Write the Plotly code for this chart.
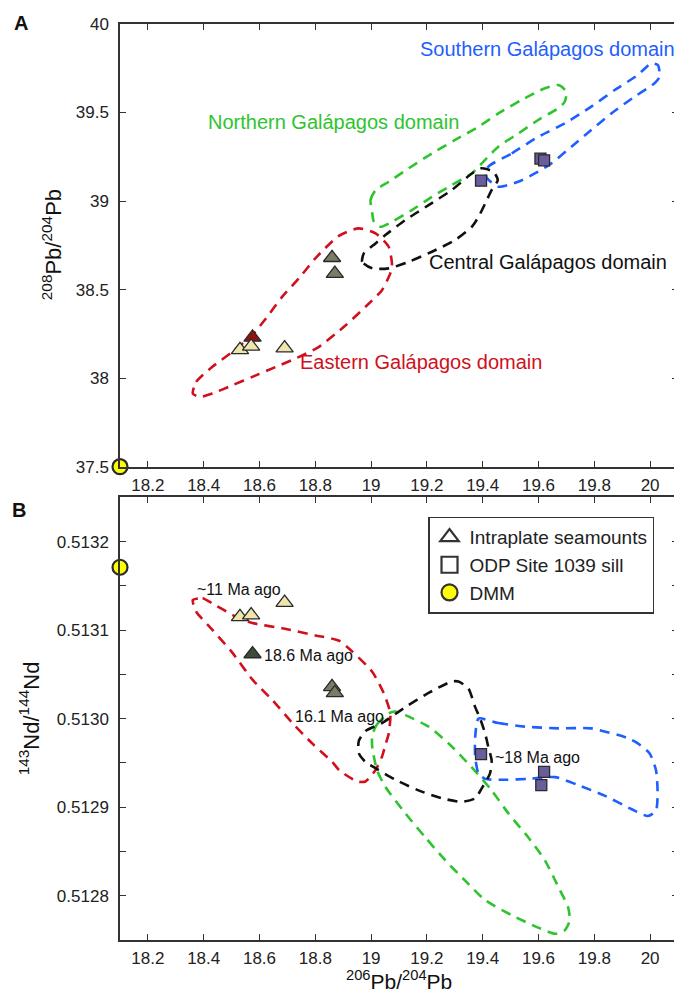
import plotly.graph_objects as go

FONT = "Liberation Sans, Arial, Helvetica, sans-serif"

# ---------------- data: panel A (206Pb/204Pb vs 208Pb/204Pb) ----------------
sea_light_pb206 = [18.53, 18.57, 18.69]
sea_light_pb208 = [38.16, 38.18, 38.17]
sea_dark_pb206 = [18.575]
sea_dark_pb208 = [38.23]
sea_mid_pb206 = [18.86, 18.87]
sea_mid_pb208 = [38.68, 38.59]
odp_pb206 = [19.394, 19.607, 19.62]
odp_pb208 = [39.115, 39.24, 39.23]
dmm_pb206 = [18.1]
dmm_pb208 = [37.5]

# domain outlines, panel A
east_a_x = [18.361, 18.373, 18.431, 18.503, 18.574, 18.623, 18.681, 18.742, 18.801, 18.883, 18.955,
            19.016, 19.063, 19.075, 19.069, 19.039, 18.980, 18.909, 18.813, 18.742, 18.659, 18.574,
            18.503, 18.432, 18.385, 18.361]
east_a_y = [37.914, 37.979, 38.064, 38.149, 38.243, 38.337, 38.459, 38.565, 38.678, 38.802, 38.846,
            38.818, 38.742, 38.638, 38.593, 38.497, 38.403, 38.299, 38.177, 38.120, 38.064, 38.007,
            37.960, 37.914, 37.894, 37.914]
cent_a_x = [19.004, 18.968, 18.974, 19.016, 19.051, 19.123, 19.206, 19.289, 19.361, 19.396, 19.438,
            19.454, 19.432, 19.409, 19.385, 19.361, 19.301, 19.218, 19.135, 19.063, 19.004]
cent_a_y = [38.620, 38.657, 38.705, 38.761, 38.808, 38.893, 38.977, 39.062, 39.156, 39.185, 39.166,
            39.119, 39.062, 38.987, 38.911, 38.855, 38.780, 38.714, 38.657, 38.620, 38.620]
north_a_x = [19.004, 18.998, 19.016, 19.063, 19.135, 19.218, 19.301, 19.385, 19.456, 19.539, 19.623,
             19.671, 19.700, 19.694, 19.671, 19.599, 19.528, 19.456, 19.385, 19.361, 19.289, 19.218,
             19.146, 19.075, 19.034, 19.010, 19.004]
north_a_y = [38.931, 39.006, 39.062, 39.109, 39.185, 39.269, 39.345, 39.420, 39.495, 39.571, 39.637,
             39.655, 39.618, 39.561, 39.524, 39.458, 39.382, 39.307, 39.194, 39.156, 39.090, 39.024,
             38.949, 38.883, 38.855, 38.883, 38.931]
south_a_x = [19.420, 19.504, 19.599, 19.694, 19.789, 19.873, 19.956, 20.004, 20.028, 20.034, 20.016,
             19.944, 19.861, 19.789, 19.718, 19.646, 19.587, 19.527, 19.456, 19.413, 19.420]
south_a_y = [39.194, 39.269, 39.363, 39.439, 39.533, 39.627, 39.712, 39.778, 39.768, 39.702, 39.665,
             39.589, 39.495, 39.401, 39.307, 39.213, 39.156, 39.109, 39.081, 39.136, 39.194]

# ---------------- data: panel B (206Pb/204Pb vs 143Nd/144Nd) ----------------
sea_light_nd = [0.513115, 0.513117, 0.513131]
sea_dark_nd = [0.513073]
sea_mid_nd = [0.513036, 0.513029]
odp_pb206_b = [19.394, 19.62, 19.61]
odp_nd = [0.512960, 0.512940, 0.512925]
dmm_nd = [0.513171]

east_b_x = [18.361, 18.396, 18.432, 18.504, 18.575, 18.682, 18.801, 18.885, 18.932, 19.004, 19.045,
            19.069, 19.063, 19.051, 19.039, 19.016, 18.980, 18.950, 18.885, 18.861, 18.789, 18.718,
            18.646, 18.575, 18.504, 18.432, 18.373, 18.361]
east_b_y = [0.513134, 0.513136, 0.513130, 0.513117, 0.513108, 0.513102, 0.513094, 0.513088, 0.513076,
            0.513053, 0.513029, 0.513006, 0.512983, 0.512970, 0.512957, 0.512942, 0.512929, 0.512929,
            0.512942, 0.512951, 0.512972, 0.512995, 0.513021, 0.513044, 0.513074, 0.513100, 0.513121,
            0.513134]
cent_b_x = [18.956, 18.980, 19.039, 19.123, 19.206, 19.289, 19.313, 19.349, 19.373, 19.391, 19.409,
            19.420, 19.432, 19.426, 19.396, 19.373, 19.325, 19.254, 19.170, 19.087, 19.016, 18.980,
            18.956, 18.956]
cent_b_y = [0.512975, 0.512986, 0.512995, 0.513013, 0.513029, 0.513042, 0.513042, 0.513034, 0.513013,
            0.513000, 0.512983, 0.512968, 0.512953, 0.512938, 0.512921, 0.512910, 0.512906, 0.512910,
            0.512919, 0.512931, 0.512944, 0.512951, 0.512961, 0.512975]
north_b_x = [19.004, 19.020, 19.063, 19.087, 19.123, 19.206, 19.278, 19.361, 19.432, 19.492, 19.563,
             19.623, 19.671, 19.706, 19.712, 19.694, 19.659, 19.599, 19.504, 19.409, 19.337, 19.266,
             19.194, 19.123, 19.051, 19.021, 19.004, 19.004]
north_b_y = [0.512981, 0.512993, 0.513006, 0.513008, 0.513004, 0.512991, 0.512972, 0.512945, 0.512919,
             0.512893, 0.512866, 0.512840, 0.512810, 0.512787, 0.512772, 0.512761, 0.512757, 0.512764,
             0.512778, 0.512795, 0.512817, 0.512840, 0.512866, 0.512893, 0.512923, 0.512942, 0.512968,
             0.512981]
south_b_x = [19.385, 19.456, 19.551, 19.671, 19.789, 19.920, 19.956, 19.998, 20.021, 20.027, 20.021,
             19.992, 19.932, 19.837, 19.742, 19.659, 19.563, 19.480, 19.409, 19.385, 19.373, 19.373,
             19.385]
south_b_y = [0.513000, 0.512995, 0.512991, 0.512989, 0.512989, 0.512978, 0.512972, 0.512961, 0.512942,
             0.512915, 0.512896, 0.512890, 0.512898, 0.512913, 0.512925, 0.512934, 0.512932, 0.512931,
             0.512932, 0.512938, 0.512957, 0.512979, 0.513000]

# ticks
x_ticks = [18.2, 18.4, 18.6, 18.8, 19.0, 19.2, 19.4, 19.6, 19.8, 20.0]
x_tick_text = ["18.2", "18.4", "18.6", "18.8", "19", "19.2", "19.4", "19.6", "19.8", "20"]
ya_ticks = [37.5, 38.0, 38.5, 39.0, 39.5, 40.0]
ya_tick_text = ["37.5", "38", "38.5", "39", "39.5", "40"]
yb_ticks = [0.51275, 0.5128, 0.51285, 0.5129, 0.51295, 0.5130, 0.51305, 0.5131, 0.51315, 0.5132, 0.51325]
yb_tick_text = ["", "0.5128", "", "0.5129", "", "0.5130", "", "0.5131", "", "0.5132", ""]

# labels
domain_names = ["Southern Galápagos domain", "Northern Galápagos domain",
                "Central Galápagos domain", "Eastern Galápagos domain"]
domain_label_x = [19.631, 18.867, 19.633, 19.179]
domain_label_y = [39.859, 39.446, 38.655, 38.090]
age_labels = ["~11 Ma ago", "18.6 Ma ago", "16.1 Ma ago", "~18 Ma ago"]
age_label_x = [18.528, 18.774, 18.888, 19.597]
age_label_y = [0.513146, 0.513071, 0.513002, 0.512956]

C_RED, C_GREEN, C_BLUE, C_BLACK = "#D0101C", "#2EC42E", "#1F5EFF", "#111111"
C_LIGHT, C_MID, C_MAROON, C_DKGREEN, C_SQ = "#EEE6AC", "#7C7B66", "#8E1212", "#3E4B3D", "#6A5D9C"
EDGE = "#2A2A2A"
DASH = "10px,7px"

fig = go.Figure()


def outline(x, y, color, xa, ya):
    fig.add_trace(go.Scatter(x=x, y=y, mode="lines", xaxis=xa, yaxis=ya, showlegend=False,
                             hoverinfo="skip",
                             line=dict(color=color, width=2.6, dash=DASH, shape="spline", smoothing=0.6)))


outline(east_a_x, east_a_y, C_RED, "x", "y")
outline(north_a_x, north_a_y, C_GREEN, "x", "y")
outline(south_a_x, south_a_y, C_BLUE, "x", "y")
outline(cent_a_x, cent_a_y, C_BLACK, "x", "y")
outline(east_b_x, east_b_y, C_RED, "x2", "y2")
outline(north_b_x, north_b_y, C_GREEN, "x2", "y2")
outline(south_b_x, south_b_y, C_BLUE, "x2", "y2")
outline(cent_b_x, cent_b_y, C_BLACK, "x2", "y2")


def pts(x, y, symbol, color, size, xa, ya, lw=1.3):
    fig.add_trace(go.Scatter(x=x, y=y, mode="markers", xaxis=xa, yaxis=ya, showlegend=False,
                             cliponaxis=False,
                             marker=dict(symbol=symbol, color=color, size=size,
                                         line=dict(color=EDGE, width=lw))))


# panel A
pts(sea_mid_pb206, sea_mid_pb208, "triangle-up", C_MID, 15, "x", "y")
pts(sea_dark_pb206, sea_dark_pb208, "triangle-up", C_MAROON, 15, "x", "y")
pts(sea_light_pb206, sea_light_pb208, "triangle-up", C_LIGHT, 15, "x", "y")
pts(odp_pb206, odp_pb208, "square", C_SQ, 11, "x", "y")
pts(dmm_pb206, dmm_pb208, "circle", "#FFFF00", 15, "x", "y", lw=2.2)
# panel B
pts(sea_mid_pb206, sea_mid_nd, "triangle-up", C_MID, 15, "x2", "y2")
pts(sea_dark_pb206, sea_dark_nd, "triangle-up", C_DKGREEN, 15, "x2", "y2")
pts(sea_light_pb206, sea_light_nd, "triangle-up", C_LIGHT, 15, "x2", "y2")
pts(odp_pb206_b, odp_nd, "square", C_SQ, 11, "x2", "y2")
pts(dmm_pb206, dmm_nd, "circle", "#FFFF00", 15, "x2", "y2", lw=2.2)

# legend entries
legend_names = ["Intraplate seamounts", "ODP Site 1039 sill", "DMM"]
legend_symbols = ["triangle-up-open", "square-open", "circle"]
legend_fill = ["#333333", "#333333", "#FFFF00"]
for nm, sym, col in zip(legend_names, legend_symbols, legend_fill):
    fig.add_trace(go.Scatter(x=[None], y=[None], mode="markers", name=nm, xaxis="x2", yaxis="y2",
                             marker=dict(symbol=sym, color=col, size=16,
                                         line=dict(color="#333333", width=2.2))))

axis_common = dict(showline=True, linecolor="#333333", linewidth=1.5, mirror="ticks", ticks="inside",
                   ticklen=6, tickwidth=1.3, tickcolor="#333333", showgrid=False, zeroline=False,
                   tickfont=dict(family=FONT, size=17, color="#222222"))

# The page body adds an 8px offset; the plot area spans screen px x 120-680, y 24-940.
fig.update_layout(
    width=674, height=984,
    margin=dict(l=112, r=2, t=16, b=52),
    paper_bgcolor="white", plot_bgcolor="white",
    font=dict(family=FONT, color="#222222"),
    xaxis=dict(domain=[0, 1], range=[18.1, 20.1], anchor="y", tickmode="array", tickvals=x_ticks,
               ticktext=x_tick_text, ticklabelstandoff=2, **axis_common),
    yaxis=dict(domain=[0.5167, 1], range=[37.5, 40], anchor="x", tickmode="array", tickvals=ya_ticks,
               ticktext=ya_tick_text, ticklabelstandoff=6, **axis_common),
    xaxis2=dict(domain=[0, 1], range=[18.1, 20.1], anchor="y2", tickmode="array", tickvals=x_ticks,
                ticktext=x_tick_text, ticklabelstandoff=2, **axis_common),
    yaxis2=dict(domain=[0, 0.4833], range=[0.51275, 0.51325], anchor="x2", tickmode="array",
                tickvals=yb_ticks, ticktext=yb_tick_text, ticklabelstandoff=6, **axis_common),
    showlegend=True,
    legend=dict(x=0.552, y=0.4621, xanchor="left", yanchor="top", bgcolor="white",
                bordercolor="#333333", borderwidth=1.5,
                font=dict(family=FONT, size=19, color="#222222"), itemsizing="trace"),
)

ann = []
domain_colors = [C_BLUE, C_GREEN, C_BLACK, C_RED]
for t, x, y, c in zip(domain_names, domain_label_x, domain_label_y, domain_colors):
    ann.append(dict(text=t, x=x, y=y, xref="x", yref="y", showarrow=False,
                    xanchor="center", yanchor="middle",
                    font=dict(family=FONT, size=20, color=c)))
for t, x, y in zip(age_labels, age_label_x, age_label_y):
    ann.append(dict(text=t, x=x, y=y, xref="x2", yref="y2", showarrow=False,
                    xanchor="center", yanchor="middle",
                    font=dict(family=FONT, size=16, color="#111111")))
ann.append(dict(text="<b>A</b>", x=21, y=23, xref="paper", yref="paper", showarrow=False,
                font=dict(family=FONT, size=20, color="#111111")))
ann.append(dict(text="<b>B</b>", x=19, y=510, xref="paper", yref="paper", showarrow=False,
                font=dict(family=FONT, size=20, color="#111111")))
# axis titles
ann.append(dict(text="<sup>208</sup>Pb/<sup>204</sup>Pb", x=52, y=245, xref="paper", yref="paper",
                textangle=-90, showarrow=False, font=dict(family=FONT, size=22, color="#111111")))
ann.append(dict(text="<sup>143</sup>Nd/<sup>144</sup>Nd", x=29, y=718, xref="paper", yref="paper",
                textangle=-90, showarrow=False, font=dict(family=FONT, size=22, color="#111111")))
ann.append(dict(text="<sup>206</sup>Pb/<sup>204</sup>Pb", x=400, y=980, xref="paper", yref="paper",
                showarrow=False, font=dict(family=FONT, size=21, color="#111111")))

# convert screen-pixel positions for paper-ref annotations
for a in ann:
    if a["xref"] == "paper":
        a["x"] = (a["x"] - 120) / 560
        a["y"] = (940 - a["y"]) / 916
        a["xanchor"] = "center"
        a["yanchor"] = "middle"
fig.update_layout(annotations=ann)

fig.write_html("out.html")
